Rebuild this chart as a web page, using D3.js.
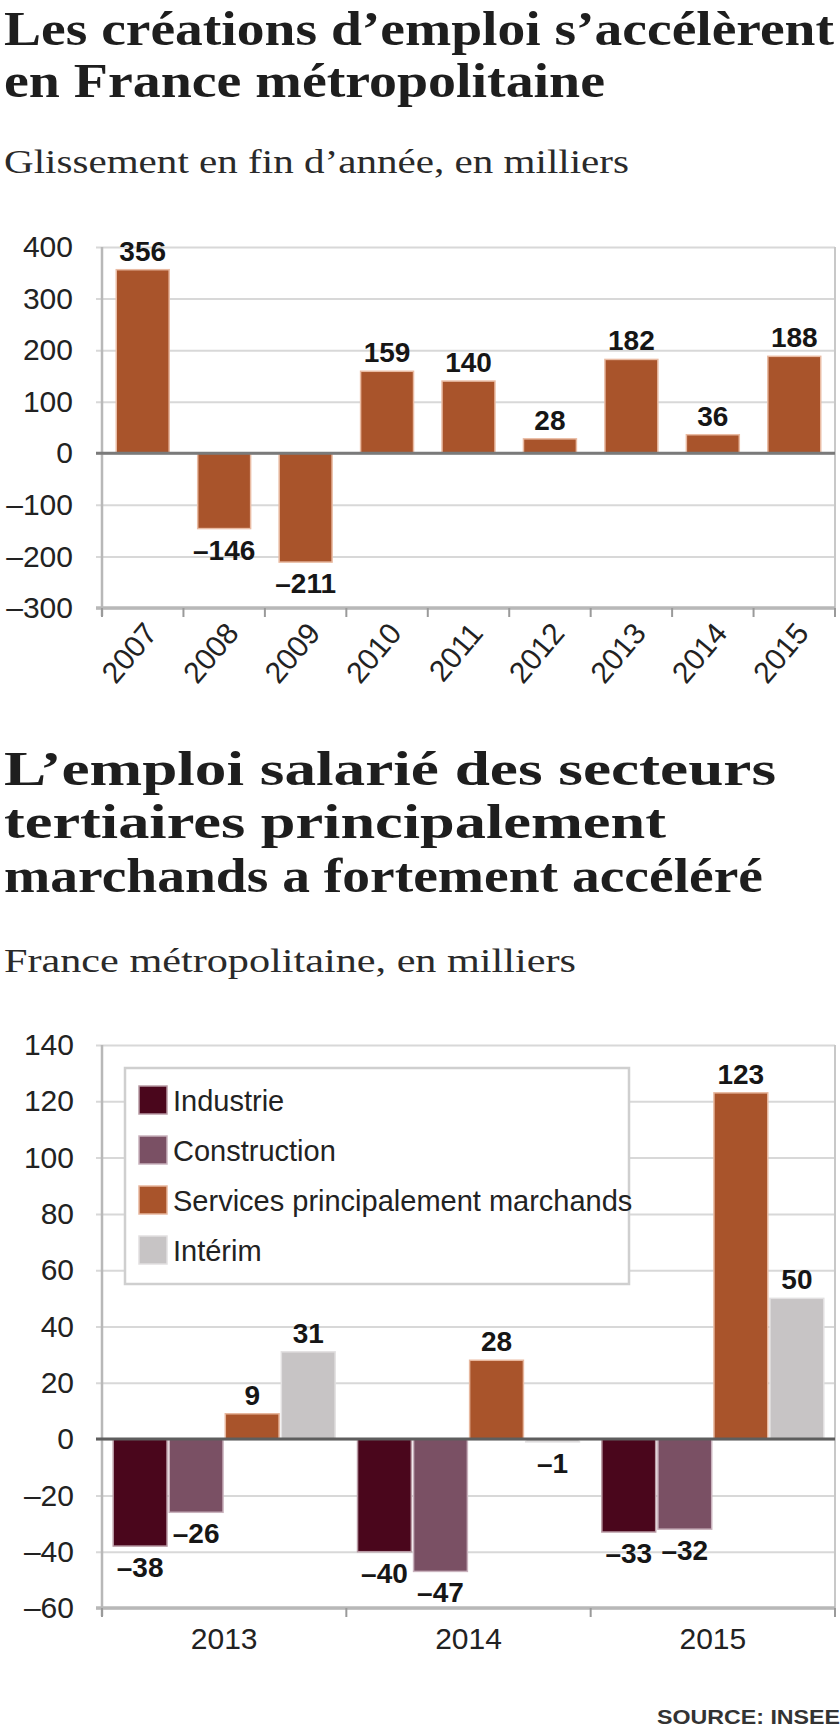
<!DOCTYPE html>
<html><head><meta charset="utf-8">
<script src="https://cdn.jsdelivr.net/npm/d3@7"></script>
<style>
html,body{margin:0;padding:0;background:#fff;}
svg{display:block;}
</style></head>
<body>
<script>
// ---------- DATA ----------
const years1 = ["2007","2008","2009","2010","2011","2012","2013","2014","2015"];
const values1 = [356, -146, -211, 159, 140, 28, 182, 36, 188];
const yTicks1 = [400, 300, 200, 100, 0, -100, -200, -300];

const years2 = ["2013","2014","2015"];
const seriesNames = ["Industrie","Construction","Services principalement marchands","Intérim"];
const industrie = [-38, -40, -33];
const construction = [-26, -47, -32];
const services = [9, 28, 123];
const interim = [31, -1, 50];
const yTicks2 = [140, 120, 100, 80, 60, 40, 20, 0, -20, -40, -60];

const title1 = ["Les créations d’emploi s’accélèrent", "en France métropolitaine"];
const subtitle1 = "Glissement en fin d’année, en milliers";
const title2 = ["L’emploi salarié des secteurs", "tertiaires principalement", "marchands a fortement accéléré"];
const subtitle2 = "France métropolitaine, en milliers";
const sourceText = "SOURCE: INSEE";

// ---------- STYLE ----------
const W = 840, H = 1730;
const orange = "#a9542b";
const seriesColors = ["#4a061c", "#7a5064", "#a9542b", "#c7c4c5"];
const seriesStroke = ["#b89aa4", "#c9b2bd", "#e7b79e", "#e2e0e1"];
const gridColor = "#d8d8d8", axisColor = "#b8b8b8", zeroColor = "#7a7a7a";
const sans = "'Liberation Sans', Arial, sans-serif";
const serif = "'Liberation Serif', 'Times New Roman', serif";
const fmt = v => v < 0 ? "\u2013" + Math.abs(v) : String(v);

const svg = d3.select("body").append("svg").attr("width", W).attr("height", H);
svg.append("rect").attr("width", W).attr("height", H).attr("fill", "#fff");

function titleLines(lines, baselines, widths) {
  lines.forEach((t, i) => {
    svg.append("text").attr("x", 4).attr("y", baselines[i])
      .attr("font-family", serif).attr("font-weight", "bold").attr("font-size", 49)
      .attr("fill", "#1e1e1e")
      .attr("textLength", widths[i]).attr("lengthAdjust", "spacingAndGlyphs")
      .text(t);
  });
}
function subtitle(t, y, w) {
  svg.append("text").attr("x", 4).attr("y", y)
    .attr("font-family", serif).attr("font-size", 33).attr("fill", "#2a2a2a")
    .attr("textLength", w).attr("lengthAdjust", "spacingAndGlyphs").text(t);
}

// ---------- CHART 1 ----------
titleLines(title1, [45, 97], [830, 601]);
subtitle(subtitle1, 173, 625);

const L = 102, R = 835;
const y1 = d3.scaleLinear().domain([-300, 400]).range([608, 247]);
const x1 = d3.scaleBand().domain(years1).range([L, R]).paddingInner(0.35).paddingOuter(0.175);

const g1 = svg.append("g");
const ax1 = g1.append("g").attr("transform", `translate(96,0)`)
  .call(d3.axisLeft(y1).tickValues(yTicks1).tickSize(-(R - 96)).tickPadding(23).tickFormat(fmt));
ax1.select(".domain").remove();
ax1.selectAll(".tick line").attr("stroke", gridColor).attr("stroke-width", 2);
ax1.selectAll(".tick text").attr("font-family", sans).attr("font-size", 30).attr("fill", "#222");

g1.selectAll("rect.bar").data(years1).join("rect")
  .attr("x", d => x1(d))
  .attr("width", x1.bandwidth())
  .attr("y", (d, i) => y1(Math.max(0, values1[i])))
  .attr("height", (d, i) => Math.abs(y1(values1[i]) - y1(0)))
  .attr("fill", orange).attr("stroke", "#e9bba3").attr("stroke-width", 1.5);

g1.selectAll("text.val").data(years1).join("text")
  .attr("x", d => x1(d) + x1.bandwidth() / 2)
  .attr("y", (d, i) => values1[i] >= 0 ? y1(values1[i]) - 9 : y1(values1[i]) + 31)
  .attr("text-anchor", "middle")
  .attr("font-family", sans).attr("font-weight", "bold").attr("font-size", 28).attr("fill", "#161616")
  .text((d, i) => fmt(values1[i]));

g1.append("line").attr("x1", L).attr("x2", L).attr("y1", y1(400)).attr("y2", y1(-300) + 8)
  .attr("stroke", axisColor).attr("stroke-width", 2.5);
g1.append("line").attr("x1", R).attr("x2", R).attr("y1", y1(400)).attr("y2", y1(-300) + 8)
  .attr("stroke", "#c8c8c8").attr("stroke-width", 2);
g1.append("line").attr("x1", 96).attr("x2", R).attr("y1", y1(0)).attr("y2", y1(0))
  .attr("stroke", zeroColor).attr("stroke-width", 3);
g1.append("line").attr("x1", 96).attr("x2", R).attr("y1", y1(-300)).attr("y2", y1(-300))
  .attr("stroke", axisColor).attr("stroke-width", 3.5);
const bounds1 = years1.map(d => x1(d) - x1.step() * x1.paddingInner() / 2).concat([R]);
g1.selectAll("line.xt").data(bounds1).join("line")
  .attr("x1", d => d).attr("x2", d => d).attr("y1", y1(-300)).attr("y2", y1(-300) + 9)
  .attr("stroke", "#9a9a9a").attr("stroke-width", 2);
g1.selectAll("text.xl").data(years1).join("text")
  .attr("transform", d => `translate(${x1(d) + x1.bandwidth() / 2 + 16},${y1(-300) + 26}) rotate(-50)`)
  .attr("text-anchor", "end")
  .attr("font-family", sans).attr("font-size", 30).attr("fill", "#222")
  .text(d => d);

// ---------- CHART 2 ----------
titleLines(title2, [785, 838, 892], [772, 662, 759]);
subtitle(subtitle2, 972, 572);

const y2 = d3.scaleLinear().domain([-60, 140]).range([1608, 1045]);
const x0 = d3.scaleBand().domain(years2).range([L, R]);
const xs = d3.scaleBand().domain(seriesNames).range([0, x0.bandwidth()]).paddingInner(0.04).paddingOuter(0.2);
const seriesValues = [industrie, construction, services, interim];

const g2 = svg.append("g");
const ax2 = g2.append("g").attr("transform", `translate(96,0)`)
  .call(d3.axisLeft(y2).tickValues(yTicks2).tickSize(-(R - 96)).tickPadding(22).tickFormat(fmt));
ax2.select(".domain").remove();
ax2.selectAll(".tick line").attr("stroke", gridColor).attr("stroke-width", 2);
ax2.selectAll(".tick text").attr("font-family", sans).attr("font-size", 30).attr("fill", "#222");

const lg = g2.append("g");
lg.append("rect").attr("x", 125).attr("y", 1068).attr("width", 504).attr("height", 216)
  .attr("fill", "#fff").attr("stroke", "#cfcfcf").attr("stroke-width", 2.5);
seriesNames.forEach((s, i) => {
  const cy = 1100 + i * 50;
  lg.append("rect").attr("x", 139).attr("y", cy - 14).attr("width", 28).attr("height", 28)
    .attr("fill", seriesColors[i]).attr("stroke", seriesStroke[i]).attr("stroke-width", 1.5);
  lg.append("text").attr("x", 173).attr("y", cy + 11)
    .attr("font-family", sans).attr("font-size", 29).attr("fill", "#222").text(s);
});

const groups = g2.selectAll("g.grp").data(years2).join("g")
  .attr("transform", d => `translate(${x0(d)},0)`);
groups.each(function(yr, gi) {
  const gg = d3.select(this);
  seriesNames.forEach((s, si) => {
    const v = seriesValues[si][gi];
    gg.append("rect").attr("x", xs(s)).attr("width", xs.bandwidth())
      .attr("y", y2(Math.max(0, v))).attr("height", Math.abs(y2(v) - y2(0)))
      .attr("fill", seriesColors[si]).attr("stroke", seriesStroke[si]).attr("stroke-width", 1.5);
    gg.append("text").attr("x", xs(s) + xs.bandwidth() / 2)
      .attr("y", v >= 0 ? y2(v) - 9 : y2(v) + 31)
      .attr("text-anchor", "middle")
      .attr("font-family", sans).attr("font-weight", "bold").attr("font-size", 28).attr("fill", "#161616")
      .text(fmt(v));
  });
});

g2.append("line").attr("x1", L).attr("x2", L).attr("y1", y2(140)).attr("y2", y2(-60) + 8)
  .attr("stroke", axisColor).attr("stroke-width", 2.5);
g2.append("line").attr("x1", R).attr("x2", R).attr("y1", y2(140)).attr("y2", y2(-60) + 8)
  .attr("stroke", "#c8c8c8").attr("stroke-width", 2);
g2.append("line").attr("x1", 96).attr("x2", R).attr("y1", y2(0)).attr("y2", y2(0))
  .attr("stroke", "#5e5e5e").attr("stroke-width", 3);
g2.append("line").attr("x1", 96).attr("x2", R).attr("y1", y2(-60)).attr("y2", y2(-60))
  .attr("stroke", axisColor).attr("stroke-width", 3.5);
const bounds2 = years2.map(d => x0(d)).concat([R]);
g2.selectAll("line.xt").data(bounds2).join("line")
  .attr("x1", d => d).attr("x2", d => d).attr("y1", y2(-60)).attr("y2", y2(-60) + 9)
  .attr("stroke", "#9a9a9a").attr("stroke-width", 2);
const axb2 = g2.append("g").attr("transform", `translate(0,${y2(-60)})`)
  .call(d3.axisBottom(x0).tickSize(0).tickPadding(20));
axb2.select(".domain").remove();
axb2.selectAll(".tick text").attr("font-family", sans).attr("font-size", 30).attr("fill", "#222");

svg.append("text").attr("x", 657).attr("y", 1724)
  .attr("font-family", sans).attr("font-weight", "bold").attr("font-size", 21).attr("fill", "#333")
  .attr("textLength", 183).attr("lengthAdjust", "spacingAndGlyphs")
  .text(sourceText);
</script>
</body></html>
